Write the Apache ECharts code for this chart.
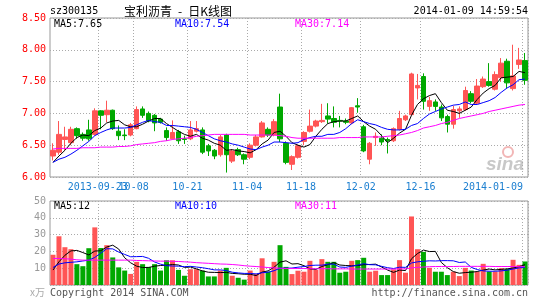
<!DOCTYPE html>
<html><head><meta charset="utf-8">
<script src="https://cdn.jsdelivr.net/npm/echarts/dist/echarts.min.js"></script>
<style>html,body{margin:0;padding:0;background:#fff}#c{width:545px;height:300px}</style>
</head><body><div id="c"></div><script>
const dates = ['2013-09-09','2013-09-10','2013-09-11','2013-09-12','2013-09-13','2013-09-16','2013-09-17','2013-09-18','2013-09-23','2013-09-24','2013-09-25','2013-09-26','2013-09-27','2013-09-30','2013-10-08','2013-10-09','2013-10-10','2013-10-11','2013-10-14','2013-10-15','2013-10-16','2013-10-17','2013-10-18','2013-10-21','2013-10-22','2013-10-23','2013-10-24','2013-10-25','2013-10-28','2013-10-29','2013-10-30','2013-10-31','2013-11-01','2013-11-04','2013-11-05','2013-11-06','2013-11-07','2013-11-08','2013-11-11','2013-11-12','2013-11-14','2013-11-15','2013-11-18','2013-11-19','2013-11-20','2013-11-21','2013-11-22','2013-11-25','2013-11-26','2013-11-27','2013-11-28','2013-11-29','2013-12-02','2013-12-03','2013-12-04','2013-12-05','2013-12-06','2013-12-09','2013-12-10','2013-12-11','2013-12-12','2013-12-13','2013-12-16','2013-12-17','2013-12-18','2013-12-19','2013-12-20','2013-12-23','2013-12-24','2013-12-25','2013-12-26','2013-12-27','2013-12-30','2013-12-31','2014-01-02','2014-01-03','2014-01-06','2014-01-07','2014-01-08','2014-01-09'];

const tickDates = ['2013-09-23','2013-10-08','2013-10-21','2013-11-04','2013-11-18','2013-12-02','2013-12-16','2014-01-09'];
const tickText  = ['2013-09-23','10-08','10-21','11-04','11-18','12-02','12-16','2014-01-09'];
const priceTicks = [6.0, 6.5, 7.0, 7.5, 8.0, 8.5];
const volTicks = [0, 10, 20, 30, 40, 50];

const open = [6.33,6.39,6.59,6.54,6.76,6.67,6.74,6.67,7.04,6.98, 7.05,6.72,6.66,6.66,6.76,7.07,7.00,6.97,6.91,6.73, 6.60,6.71,6.60,6.60,6.72,6.74,6.49,6.42,6.35,6.66, 6.25,6.43,6.35,6.31,6.50,6.63,6.75,6.66,7.10,6.53, 6.20,6.31,6.56,6.72,6.80,6.87,6.96,6.92,6.89,6.88, 6.85,7.12,6.79,6.28,6.62,6.61,6.59,6.57,6.75,6.90, 6.98,7.40,7.58,7.11,7.18,7.10,6.95,6.83,7.04,7.06, 7.31,7.16,7.42,7.50,7.38,7.56,7.82,7.39,7.77,7.83];
const close = [6.42,6.67,6.63,6.75,6.65,6.61,6.60,7.04,6.97,7.05, 6.76,6.65,6.65,6.82,7.06,6.97,6.88,6.85,6.86,6.62, 6.70,6.57,6.59,6.74,6.76,6.39,6.41,6.33,6.63,6.35, 6.41,6.35,6.28,6.50,6.63,6.85,6.66,6.87,6.60,6.23, 6.32,6.49,6.70,6.80,6.88,6.89,6.91,6.86,6.88,6.86, 7.09,7.10,6.41,6.53,6.64,6.55,6.57,6.76,6.92,6.96, 7.62,7.44,7.19,7.20,7.11,6.93,6.83,7.06,7.07,7.36, 7.19,7.43,7.54,7.44,7.61,7.79,7.48,7.59,7.84,7.52];
const low = [6.26,6.35,6.42,6.50,6.60,6.57,6.57,6.65,6.75,6.86, 6.74,6.58,6.58,6.64,6.75,6.93,6.86,6.72,6.84,6.57, 6.59,6.52,6.52,6.58,6.70,6.36,6.33,6.28,6.32,6.07, 6.22,6.33,6.20,6.28,6.48,6.62,6.63,6.64,6.55,6.20, 6.11,6.29,6.50,6.70,6.78,6.85,6.84,6.78,6.78,6.83, 6.83,7.01,6.39,6.20,6.49,6.50,6.37,6.55,6.73,6.88, 6.97,7.22,7.06,7.04,7.04,6.88,6.70,6.76,6.93,7.04, 7.16,7.14,7.40,7.42,7.36,7.50,7.40,7.36,7.70,7.45];
const high = [6.53,6.88,6.79,6.79,6.78,6.70,6.90,7.08,7.05,7.20, 7.06,6.81,6.75,6.85,7.11,7.11,7.03,6.99,6.93,6.78, 6.89,6.74,6.65,6.88,6.88,6.78,6.52,6.44,6.66,6.68, 6.44,6.46,6.37,6.53,6.66,6.88,6.78,6.91,7.31,6.56, 6.34,6.51,6.72,7.06,6.90,7.15,7.16,7.11,6.96,6.92, 7.10,7.24,6.82,6.55,6.70,6.67,6.62,6.78,7.04,6.98, 7.64,7.62,7.63,7.26,7.22,7.14,6.98,7.12,7.11,7.42, 7.35,7.54,7.58,7.79,7.66,7.87,7.86,8.08,8.03,7.95];

const ma5 = [6.23,6.33,6.42,6.53,6.62,6.66,6.65,6.73,6.77,6.85, 6.88,6.89,6.82,6.79,6.79,6.83,6.88,6.92,6.92,6.84, 6.78,6.72,6.67,6.64,6.67,6.61,6.58,6.53,6.50,6.42, 6.43,6.41,6.40,6.38,6.43,6.52,6.58,6.70,6.72,6.64, 6.54,6.50,6.47,6.51,6.64,6.75,6.84,6.87,6.88,6.88, 6.92,6.96,6.87,6.80,6.75,6.65,6.54,6.61,6.69,6.75, 6.97,7.14,7.23,7.28,7.31,7.17,7.05,7.03,7.00,7.05, 7.10,7.22,7.32,7.39,7.44,7.56,7.57,7.58,7.66,7.64];
const ma10 = [6.23,6.28,6.31,6.36,6.42,6.49,6.56,6.65,6.70,6.74, 6.77,6.77,6.77,6.78,6.82,6.86,6.89,6.87,6.86,6.81, 6.81,6.80,6.79,6.78,6.75,6.70,6.65,6.60,6.57,6.55, 6.52,6.50,6.47,6.44,6.43,6.47,6.50,6.55,6.55,6.54, 6.53,6.54,6.59,6.62,6.64,6.64,6.67,6.67,6.70,6.76, 6.84,6.90,6.87,6.84,6.82,6.78,6.75,6.74,6.74,6.75, 6.81,6.84,6.92,6.99,7.03,7.07,7.10,7.13,7.14,7.18, 7.14,7.14,7.17,7.20,7.25,7.33,7.40,7.45,7.53,7.54];
const ma30 = [6.44,6.45,6.45,6.45,6.45,6.46,6.46,6.46,6.47,6.47, 6.47,6.48,6.48,6.49,6.51,6.52,6.53,6.54,6.56,6.57, 6.59,6.60,6.61,6.62,6.64,6.65,6.66,6.67,6.67,6.67, 6.67,6.67,6.67,6.66,6.66,6.66,6.66,6.66,6.65,6.64, 6.62,6.61,6.61,6.61,6.61,6.61,6.61,6.61,6.62,6.62, 6.62,6.62,6.63,6.63,6.63,6.63,6.64,6.65,6.66,6.68, 6.70,6.73,6.77,6.79,6.81,6.84,6.86,6.89,6.92,6.94, 6.96,6.98,7.00,7.03,7.05,7.07,7.09,7.11,7.13,7.14];

const vol = [18,29,22.5,21.3,12.4,11.2,21.9,34.3,22,23.7, 16.4,10.5,8.6,6.6,13.8,12.4,10.8,12.4,8.6,14.7, 14.7,9.0,5.5,9.4,9.4,8.6,5.1,5.1,8.6,10.2, 5.5,4.3,3.2,8.6,6.6,15.9,7.9,13.8,23.7,10.8, 6.5,8.5,7.9,14.4,9.0,15.4,13.8,13.8,7.3,7.9, 14.4,14.8,16.2,7.9,8.5,5.9,5.9,9.3,14.8,7.3, 40.8,21.3,19.7,10.2,7.9,7.9,5.9,7.9,5.3,10.2, 8.6,7.9,12.6,8.0,8.0,10.0,9.5,15.0,12.0,14.0];
const vma5 = [8.9,13.8,17.7,20.3,20.6,19.3,17.9,20.2,20.4,22.6, 23.7,21.4,16.2,13.2,11.2,10.4,10.4,11.2,11.6,11.8, 12.2,11.9,10.5,10.7,9.6,8.4,7.6,7.5,7.4,7.5, 6.9,6.7,6.4,6.4,5.6,7.7,8.4,10.6,13.6,14.4, 12.5,12.7,11.5,9.6,9.3,11.0,12.1,13.3,11.9,11.6, 11.4,11.6,12.1,12.2,12.4,10.7,8.9,7.5,8.9,8.6, 15.6,18.7,20.8,19.9,20.0,13.4,10.3,8.0,7.0,7.4, 7.6,8.0,8.9,9.5,9.0,9.3,9.6,10.1,10.9,12.1];
const vma10 = [10.4,12.5,13.2,13.5,13.8,14.3,14.8,16.4,19.0,21.6, 21.5,19.6,18.2,16.8,16.9,17.0,15.9,13.7,12.4,11.5, 11.3,11.2,10.9,11.1,10.7,10.3,9.7,9.0,9.0,8.6, 7.6,7.2,6.9,6.9,6.6,7.3,7.6,8.5,10.0,10.0, 10.1,10.6,11.0,11.6,11.8,11.8,12.4,12.4,10.7,10.5, 11.2,11.9,12.7,12.1,12.0,11.1,10.3,9.8,10.6,10.5, 13.1,13.8,14.1,14.4,14.3,14.5,14.5,14.4,13.4,13.7, 10.5,9.2,8.4,8.2,8.2,8.4,8.8,9.5,10.2,10.6];
const vma30 = [15.8,15.8,15.6,15.4,15.0,14.8,14.8,14.8,14.8,14.8, 14.8,14.8,14.8,14.8,14.6,14.5,14.4,14.3,14.2,14.2, 14.1,14.0,13.8,13.6,13.3,13.1,12.9,12.7,12.5,12.4, 12.2,11.9,11.5,11.2,11.0,10.7,10.4,10.2,10.0,9.8, 9.8,9.8,9.8,9.7,9.7,9.7,9.7,9.6,9.6,9.6, 9.5,9.5,9.5,9.5,9.5,9.5,9.5,9.5,9.6,9.6, 10.2,10.5,10.7,10.9,11.0,11.0,11.0,11.0,11.1,11.1, 11.1,11.1,11.1,11.1,11.0,11.0,11.0,11.0,10.9,10.9];

const RED = '#ff5555', GREEN = '#00a800', LABEL_BLUE = '#1c7fd0';
const MONO = '"DejaVu Sans Mono", monospace';
const gridLine = {show: true, lineStyle: {color: '#aaaaaa', type: [1, 2], width: 1}};
const showTick = (idx, val) => tickDates.indexOf(val) >= 0;
// first tick label is drawn by the volume axis (on its top side) so it is not dropped by overlap handling
const showMainLabel = (idx, val) => tickDates.indexOf(val) > 0;
const showFirstLabel = (idx, val) => tickDates.indexOf(val) === 0;

const kData = dates.map((d, i) => [open[i], close[i], low[i], high[i]]);
const volData = vol.map((v, i) => ({value: v, itemStyle: {color: close[i] >= open[i] ? RED : GREEN}}));

const chart = echarts.init(document.getElementById('c'), null, {renderer: 'canvas'});
const line = (name, data, color, xi) => ({
  type: 'line', name, data, xAxisIndex: xi, yAxisIndex: xi, symbol: 'none', smooth: false,
  lineStyle: {color, width: 1}, silent: true, z: 5
});
const txt = (x, y, text, fill, opts) => ({
  type: 'text', x, y, silent: true,
  style: Object.assign({text, fill, font: '10px ' + MONO, textAlign: 'left', textVerticalAlign: 'middle'}, opts || {})
});
const labelFmt = (v) => { const k = tickDates.indexOf(v); if (k < 0) return ''; return k === tickDates.length - 1 ? '{e|' + tickText[k] + '}' : tickText[k]; };

chart.setOption({
  animation: false,
  backgroundColor: '#ffffff',
  grid: [
    {left: 50, width: 478, top: 18, height: 159, show: true, borderColor: '#999', borderWidth: 1},
    {left: 50, width: 478, top: 201, height: 84, show: true, borderColor: '#999', borderWidth: 1}
  ],
  xAxis: [
    {type: 'category', data: dates, gridIndex: 0, boundaryGap: true,
     axisLine: {show: false}, axisTick: {show: false},
     axisLabel: {interval: showMainLabel, hideOverlap: false, color: LABEL_BLUE, fontFamily: MONO, fontSize: 10, margin: 5, padding: [0, 6, 0, 0],
       formatter: labelFmt,
       rich: {e: {color: LABEL_BLUE, fontFamily: MONO, fontSize: 10, padding: [0, 58, 0, 0]}}},
     splitLine: Object.assign({interval: showTick}, gridLine)},
    {type: 'category', data: dates, gridIndex: 1, boundaryGap: true, position: 'top',
     axisLine: {show: false}, axisTick: {show: false},
     axisLabel: {interval: showFirstLabel, color: LABEL_BLUE, fontFamily: MONO, fontSize: 10, margin: 9, padding: [0, 6, 0, 0],
       formatter: labelFmt},
     splitLine: Object.assign({interval: showTick}, gridLine)}
  ],
  yAxis: [
    {type: 'value', gridIndex: 0, min: priceTicks[0], max: priceTicks[priceTicks.length - 1], interval: 0.5,
     axisLine: {show: false}, axisTick: {show: false},
     axisLabel: {color: '#ff0000', fontFamily: MONO, fontSize: 10, margin: 4, formatter: (v) => v.toFixed(2)},
     splitLine: gridLine},
    {type: 'value', gridIndex: 1, min: volTicks[0], max: volTicks[volTicks.length - 1], interval: 10,
     axisLine: {show: false}, axisTick: {show: false},
     axisLabel: {color: '#999999', fontFamily: MONO, fontSize: 10, margin: 4, formatter: (v) => v === 0 ? '' : String(v)},
     splitLine: gridLine}
  ],
  series: [
    {type: 'candlestick', data: kData, xAxisIndex: 0, yAxisIndex: 0, barWidth: 5, silent: true, z: 3,
     itemStyle: {color: RED, color0: GREEN, borderColor: RED, borderColor0: GREEN, borderWidth: 1}},
    line('MA5', ma5, '#000000', 0),
    line('MA10', ma10, '#0000ff', 0),
    line('MA30', ma30, '#ff00ff', 0),
    {type: 'bar', data: volData, xAxisIndex: 1, yAxisIndex: 1, barWidth: 5, silent: true, z: 3},
    line('VMA5', vma5, '#000000', 1),
    line('VMA10', vma10, '#0000ff', 1),
    line('VMA30', vma30, '#ff00ff', 1)
  ],
  graphic: [
    txt(50, 11, 'sz300135', '#000'),
    txt(178, 11, '宝利沥青\u2002-\u2002日K线图', '#000', {textAlign: 'center', font: '12px "Noto Sans CJK SC"'}),
    txt(528, 11, '2014-01-09 14:59:54', '#000', {textAlign: 'right'}),
    txt(54, 24, 'MA5:7.65', '#000'),
    txt(175, 24, 'MA10:7.54', '#0000ff'),
    txt(295, 24, 'MA30:7.14', '#ff00ff'),
    txt(54, 206, 'MA5:12', '#000'),
    txt(175, 206, 'MA10:10', '#0000ff'),
    txt(295, 206, 'MA30:11', '#ff00ff'),
    txt(30, 292, 'x万', '#aaaaaa', {font: '10px "Noto Sans CJK SC"'}),
    txt(50, 293, 'Copyright 2014 SINA.COM', '#555'),
    txt(528, 293, 'http://finance.sina.com.cn', '#555', {textAlign: 'right'}),
    {type: 'circle', shape: {cx: 508, cy: 152, r: 5}, silent: true, style: {fill: 'none', stroke: '#f2b6b6', lineWidth: 2}},
    txt(505, 165, 'sina', '#c8c8c8', {textAlign: 'center', font: 'italic bold 19px "Liberation Sans"'})
  ]
});
</script></body></html>
